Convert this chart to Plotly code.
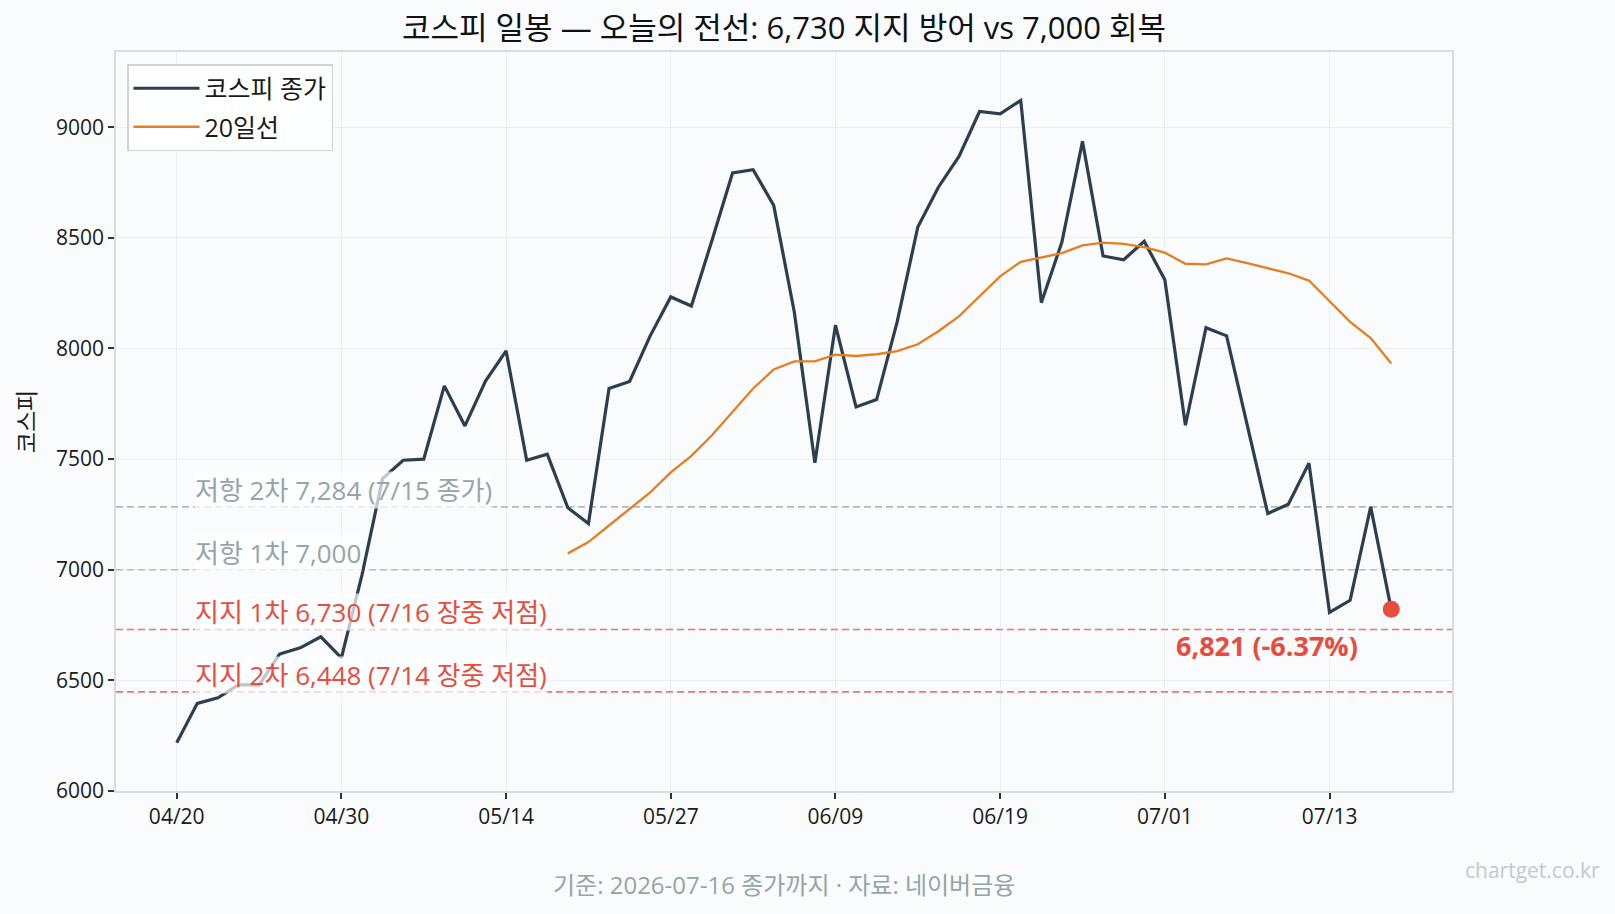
import plotly.graph_objects as go

dates = ["04/20", "04/30", "05/14", "05/27", "06/09", "06/19", "07/01", "07/13"]
tick_idx = [0, 8, 16, 24, 32, 40, 48, 56]

close = [6218, 6396, 6421, 6480, 6480, 6619, 6647, 6697, 6602, 6977,
         7412, 7495, 7500, 7831, 7650, 7853, 7989, 7495, 7522, 7280,
         7209, 7819, 7851, 8057, 8233, 8192, 8488, 8793, 8808, 8647,
         8165, 7483, 8105, 7736, 7769, 8121, 8549, 8729, 8868, 9071,
         9061, 9121, 8207, 8481, 8936, 8418, 8401, 8484, 8311, 7653,
         8094, 8057, 7655, 7254, 7296, 7482, 6807, 6862, 7284, 6821]

ma20_start = 19
ma20 = [7074, 7125, 7200, 7277, 7350, 7440, 7515, 7608, 7712, 7819,
        7905, 7942, 7942, 7972, 7966, 7974, 7988, 8019, 8078, 8145,
        8236, 8326, 8392, 8410, 8431, 8466, 8478, 8473, 8458, 8433,
        8383, 8380, 8407, 8386, 8364, 8340, 8307, 8215, 8120, 8047, 7932]

levels = [7284, 7000, 6730, 6448]
level_labels = ["저항 2차 7,284 (7/15 종가)", "저항 1차 7,000",
                "지지 1차 6,730 (7/16 장중 저점)", "지지 2차 6,448 (7/14 장중 저점)"]
level_colors = ["rgba(149,165,166,0.75)", "rgba(149,165,166,0.75)",
                "rgba(231,76,60,0.75)", "rgba(231,76,60,0.75)"]
label_colors = ["#95a5a6", "#95a5a6", "#e74c3c", "#e74c3c"]

last_label = "6,821 (-6.37%)"

FONT = "Open Sans, Noto Sans CJK KR, sans-serif"
BG = "#f9fbfd"

x_close = list(range(len(close)))
x_ma = list(range(ma20_start, ma20_start + len(ma20)))

fig = go.Figure()
fig.add_trace(go.Scatter(x=x_close, y=close, mode="lines", name="코스피 종가",
                         legendgroup="a",
                         line=dict(color="#2c3e50", width=3.2)))
fig.add_trace(go.Scatter(x=x_ma, y=ma20, mode="lines", name="20일선",
                         legendgroup="b",
                         line=dict(color="#e67e22", width=2.3)))
fig.add_trace(go.Scatter(x=[x_close[-1]], y=[close[-1]], mode="markers",
                         showlegend=False,
                         marker=dict(color="#e74c3c", size=17)))

shapes = []
annotations = []
for lv, lab, lc, tc in zip(levels, level_labels, level_colors, label_colors):
    shapes.append(dict(type="line", xref="paper", x0=0, x1=1, yref="y", y0=lv, y1=lv,
                       line=dict(color=lc, width=1.7, dash="7px,4px"), layer="below"))
    annotations.append(dict(x=1, y=lv, xref="x", yref="y", text=lab, showarrow=False,
                            xanchor="left", yanchor="middle", yshift=17, xshift=-3,
                            font=dict(family=FONT, size=26, color=tc),
                            bgcolor="rgba(255,255,255,0.7)", borderpad=0))

annotations.append(dict(x=x_close[-1], y=close[-1], xref="x", yref="y", text="<b>" + last_label + "</b>",
                        showarrow=False, xanchor="right", yanchor="middle",
                        xshift=-31, yshift=-36,
                        font=dict(family=FONT, size=27, color="#e74c3c")))

pl, pr, pt, pb = 116, 163, 52, 123
pw, ph = 1615 - pl - pr, 914 - pt - pb
annotations.append(dict(x=(784 - pl) / pw, y=(791 - 884) / ph, xref="paper", yref="paper",
                        text="기준: 2026-07-16 종가까지 · 자료: 네이버금융",
                        showarrow=False, xanchor="center", yanchor="middle",
                        font=dict(family=FONT, size=24, color="#95a5a6")))
annotations.append(dict(x=(1602 - pl) / pw, y=(791 - 870) / ph, xref="paper", yref="paper",
                        text="chartget.co.kr", showarrow=False,
                        xanchor="right", yanchor="middle",
                        font=dict(family=FONT, size=21, color="#c3c8d0")))

fig.update_layout(
    width=1615, height=914,
    margin=dict(l=pl, r=pr, t=pt, b=pb),
    paper_bgcolor=BG, plot_bgcolor=BG,
    font=dict(family=FONT, color="#1a1a1a"),
    title=dict(text="코스피 일봉 — 오늘의 전선: 6,730 지지 방어 vs 7,000 회복",
               x=784 / 1615, xanchor="center", y=1 - 28 / 914, yanchor="middle",
               font=dict(family=FONT, size=31, color="#111111")),
    shapes=shapes,
    annotations=annotations,
    legend=dict(x=(127 - pl) / pw, y=(791 - 64) / ph, xanchor="left", yanchor="top",
                bgcolor="rgba(255,255,255,0.85)", bordercolor="#cfd3d8", borderwidth=1.5,
                font=dict(family=FONT, size=25, color="#1a1a1a"),
                itemwidth=66, tracegroupgap=3),
    xaxis=dict(range=[-2.95, 61.95], tickmode="array", tickvals=tick_idx, ticktext=dates,
               showgrid=True, gridcolor="rgba(200,205,215,0.25)", gridwidth=1,
               zeroline=False, showline=True, linecolor="#d9dce3", linewidth=1.5, mirror=True,
               ticks="outside", ticklen=6, tickwidth=1.5, tickcolor="#333333",
               tickfont=dict(family=FONT, size=21, color="#1a1a1a")),
    yaxis=dict(range=[6000, 9340], tickmode="array",
               tickvals=[6000, 6500, 7000, 7500, 8000, 8500, 9000],
               ticktext=["6000", "6500", "7000", "7500", "8000", "8500", "9000"],
               showgrid=True, gridcolor="rgba(200,205,215,0.25)", gridwidth=1,
               zeroline=False, showline=True, linecolor="#d9dce3", linewidth=1.5, mirror=True,
               ticks="outside", ticklen=6, tickwidth=1.5, tickcolor="#333333",
               tickfont=dict(family=FONT, size=21, color="#1a1a1a"),
               title=dict(text="코스피", standoff=14,
                          font=dict(family=FONT, size=23, color="#1a1a1a"))),
)

fig.write_html("out.html")
